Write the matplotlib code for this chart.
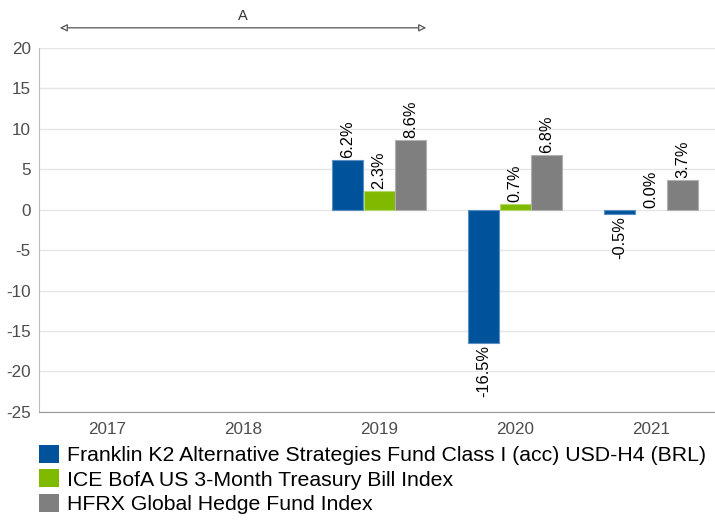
import numpy as np
import matplotlib.pyplot as plt
from matplotlib.patches import Patch

plt.rcParams['font.family'] = ['Liberation Sans', 'DejaVu Sans']
plt.rcParams['axes.unicode_minus'] = False

# Data
years = ['2017', '2018', '2019', '2020', '2021']
fund = [np.nan, np.nan, 6.2, -16.5, -0.5]
tbill = [np.nan, np.nan, 2.3, 0.7, 0.0]
hfrx = [np.nan, np.nan, 8.6, 6.8, 3.7]
series_names = ['Franklin K2 Alternative Strategies Fund Class I (acc) USD-H4 (BRL)',
                'ICE BofA US 3-Month Treasury Bill Index',
                'HFRX Global Hedge Fund Index']
colors = ['#00539b', '#7fba00', '#7f7f7f']
edges = ['#5b8fc4', '#b3d96b', '#b0b0b0']

fig = plt.figure(figsize=(7.15, 5.22), dpi=100)
ax = fig.add_axes([0.0545, 0.211, 0.9455, 0.697])

x = np.arange(len(years))
w = 0.228
for i, vals in enumerate([fund, tbill, hfrx]):
    pos = x + (i - 1) * (w + 0.005)
    lws = [0 if v == 0 else 0.8 for v in vals]
    ax.bar(pos, vals, width=w, color=colors[i], edgecolor=edges[i], linewidth=lws, zorder=3)
    for p, v in zip(pos, vals):
        if np.isnan(v):
            continue
        if v >= 0:
            ax.text(p, v + 0.25, f'{v:.1f}%', rotation=90, ha='center', va='bottom',
                    fontsize=11.8, color='black', zorder=4)
        else:
            ax.text(p, v - 0.25, f'{v:.1f}%', rotation=90, ha='center', va='top',
                    fontsize=11.8, color='black', zorder=4)

ax.set_xlim(-0.5, 4.47)
ax.set_ylim(-25, 20)
ax.set_yticks(np.arange(-25, 21, 5))
ax.set_xticks(x)
ax.set_xticklabels(years)
ax.tick_params(axis='both', length=0, labelsize=12.3, colors='#4d4d4d')
ax.tick_params(axis='x', pad=7)
ax.tick_params(axis='y', pad=6)
ax.yaxis.grid(True, color='#e6e6e6', linewidth=1, zorder=0)
ax.spines['top'].set_visible(False)
ax.spines['right'].set_visible(False)
ax.spines['left'].set_color('#bbbbbb')
ax.spines['bottom'].set_color('#999999')

# Period marker "A" above the plot
g_left = x[0] - 1.5 * w - 0.005
g_right = x[2] + 1.5 * w + 0.005
ax.annotate('', xy=(g_left, 22.5), xytext=(g_right, 22.5), annotation_clip=False,
            arrowprops=dict(arrowstyle='<|-|>', edgecolor='#555555', facecolor='white',
                            lw=0.9, mutation_scale=11, shrinkA=0, shrinkB=0))
ax.text((g_left + g_right) / 2, 23.9, 'A', ha='center', va='center', fontsize=10.5,
        color='#333333', clip_on=False)

handles = [Patch(facecolor=c) for c in colors]
fig.legend(handles, series_names, loc='upper left', bbox_to_anchor=(0.0545, 0.148),
           frameon=False, fontsize=15.3, handlelength=0.93, handleheight=0.93,
           handletextpad=0.4, labelspacing=0.2, borderpad=0, borderaxespad=0)

fig.savefig('out.png', dpi=100)
